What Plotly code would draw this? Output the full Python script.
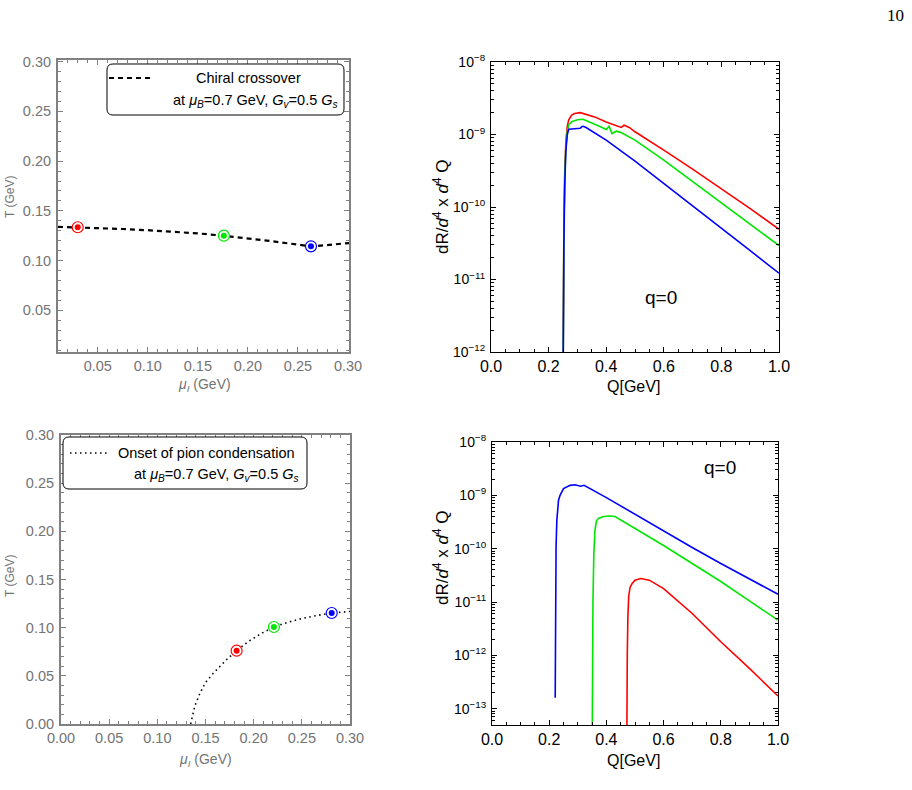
import plotly.graph_objects as go

W, H = 912, 790

# ---------------- data ----------------
# top-left: chiral crossover line (mu_I, T)
cross_mu = [0.0103, 0.03, 0.05, 0.075, 0.10, 0.125, 0.15, 0.175, 0.20, 0.225, 0.25, 0.263, 0.275, 0.29, 0.301]
cross_T = [0.1339, 0.1334, 0.1327, 0.1317, 0.1305, 0.1292, 0.1273, 0.1250, 0.1223, 0.1193, 0.1160, 0.1143, 0.1152, 0.1166, 0.1176]
cross_pts_mu = [0.030, 0.176, 0.263]
cross_pts_T = [0.1335, 0.1250, 0.1143]

# bottom-left: onset of pion condensation (mu_I, T)
pion_mu = [0.1346, 0.1365, 0.139, 0.1443, 0.150, 0.158, 0.165, 0.172, 0.1823, 0.195, 0.208, 0.221, 0.235, 0.250, 0.265, 0.281, 0.300]
pion_T = [0.0, 0.010, 0.019, 0.032, 0.043, 0.0526, 0.060, 0.067, 0.0761, 0.086, 0.094, 0.1007, 0.1055, 0.1095, 0.1125, 0.1152, 0.1168]
pion_pts_mu = [0.1823, 0.221, 0.281]
pion_pts_T = [0.0761, 0.1007, 0.1152]

point_colors = ["#ff0000", "#00e600", "#0000ff"]

# top-right: rates (Q, dR/d4x d4Q)
tr_red_Q = [0.2495, 0.251, 0.253, 0.256, 0.260, 0.265, 0.270, 0.280, 0.290, 0.310, 0.330, 0.360, 0.400, 0.440, 0.452, 0.462, 0.480, 0.500, 0.550, 0.600, 0.700, 0.800, 0.900, 1.000]
tr_red_R = [1e-13, 3e-12, 5e-11, 3e-10, 8e-10, 1.3e-9, 1.6e-9, 1.85e-9, 1.95e-9, 2.0e-9, 1.9e-9, 1.75e-9, 1.49e-9, 1.32e-9, 1.25e-9, 1.34e-9, 1.25e-9, 1.09e-9, 8.2e-10, 6.08e-10, 3.33e-10, 1.79e-10, 9.5e-11, 4.93e-11]
tr_green_Q = [0.2495, 0.251, 0.253, 0.256, 0.260, 0.265, 0.270, 0.280, 0.300, 0.320, 0.350, 0.380, 0.400, 0.410, 0.420, 0.435, 0.450, 0.500, 0.600, 0.700, 0.800, 0.900, 1.000]
tr_green_R = [1e-13, 2.5e-12, 4e-11, 2.5e-10, 7e-10, 1.1e-9, 1.35e-9, 1.5e-9, 1.6e-9, 1.62e-9, 1.45e-9, 1.28e-9, 1.17e-9, 1.3e-9, 1.03e-9, 1.11e-9, 1.07e-9, 8.36e-10, 4.44e-10, 2.25e-10, 1.13e-10, 5.77e-11, 2.94e-11]
tr_blue_Q = [0.2495, 0.251, 0.253, 0.256, 0.260, 0.265, 0.270, 0.290, 0.310, 0.315, 0.320, 0.330, 0.350, 0.400, 0.500, 0.600, 0.700, 0.800, 0.900, 1.000]
tr_blue_R = [1e-13, 2e-12, 3e-11, 2e-10, 6e-10, 1.0e-9, 1.18e-9, 1.2e-9, 1.22e-9, 1.28e-9, 1.3e-9, 1.25e-9, 1.12e-9, 8.36e-10, 4.3e-10, 2.12e-10, 1.05e-10, 5.14e-11, 2.5e-11, 1.22e-11]

# bottom-right
br_blue_Q = [0.221, 0.2212, 0.2215, 0.2240, 0.2267, 0.2326, 0.238, 0.250, 0.273, 0.290, 0.310, 0.322, 0.400, 0.500, 0.600, 0.700, 0.800, 0.900, 1.000]
br_blue_R = [1.6e-13, 1e-12, 1e-11, 1.1e-10, 3.4e-10, 8.1e-10, 1.0e-9, 1.34e-9, 1.54e-9, 1.58e-9, 1.48e-9, 1.54e-9, 9.08e-10, 4.41e-10, 2.12e-10, 1.05e-10, 5.27e-11, 2.68e-11, 1.40e-11]
br_green_Q = [0.3500, 0.351, 0.353, 0.356, 0.360, 0.365, 0.372, 0.390, 0.410, 0.430, 0.500, 0.600, 0.700, 0.800, 0.900, 1.000]
br_green_R = [1e-14, 1e-12, 1e-11, 8e-11, 2.2e-10, 3.3e-10, 3.7e-10, 4.0e-10, 4.1e-10, 4.0e-10, 2.38e-10, 1.15e-10, 5.27e-11, 2.43e-11, 1.05e-11, 4.57e-12]
br_red_Q = [0.4710, 0.4715, 0.473, 0.475, 0.478, 0.483, 0.490, 0.500, 0.520, 0.550, 0.600, 0.700, 0.800, 0.900, 1.000]
br_red_R = [1e-14, 1e-13, 1e-12, 5e-12, 1.3e-11, 1.9e-11, 2.22e-11, 2.57e-11, 2.76e-11, 2.57e-11, 1.79e-11, 6.1e-12, 1.8e-12, 5.7e-13, 1.73e-13]

top_logticks = [-8, -9, -10, -11, -12]
bot_logticks = [-8, -9, -10, -11, -12, -13]
phase_ticks = [0.00, 0.05, 0.10, 0.15, 0.20, 0.25, 0.30]
q_ticks = [0.0, 0.2, 0.4, 0.6, 0.8, 1.0]

# ---------------- figure ----------------
fig = go.Figure()

def px(x):
    return x / W

def py(y):
    return 1 - y / H

GRAY = "#808080"
TXTGRAY = "#747474"
FONT = "Liberation Sans, Arial, sans-serif"

# curves
fig.add_trace(go.Scatter(x=cross_mu, y=cross_T, mode="lines", xaxis="x", yaxis="y",
                         line=dict(color="black", width=2.2, dash="5px,4px"), showlegend=False))
fig.add_trace(go.Scatter(x=pion_mu, y=pion_T, mode="lines", xaxis="x3", yaxis="y3",
                         line=dict(color="black", width=1.6, dash="1.5px,3.5px"), showlegend=False))

for xs, ys, xa, ya in [(cross_pts_mu, cross_pts_T, "x", "y"), (pion_pts_mu, pion_pts_T, "x3", "y3")]:
    fig.add_trace(go.Scatter(x=xs, y=ys, mode="markers", xaxis=xa, yaxis=ya, showlegend=False,
                             marker=dict(size=11, color="white", line=dict(color=point_colors, width=1.2))))
    fig.add_trace(go.Scatter(x=xs, y=ys, mode="markers", xaxis=xa, yaxis=ya, showlegend=False,
                             marker=dict(size=6, color=point_colors, line=dict(width=0))))

for q, r, c in [(tr_red_Q, tr_red_R, "#ff0000"), (tr_green_Q, tr_green_R, "#00e600"), (tr_blue_Q, tr_blue_R, "#0000ff")]:
    fig.add_trace(go.Scatter(x=q, y=r, mode="lines", xaxis="x2", yaxis="y2", showlegend=False,
                             line=dict(color=c, width=1.6)))
for q, r, c in [(br_blue_Q, br_blue_R, "#0000ff"), (br_green_Q, br_green_R, "#00e600"), (br_red_Q, br_red_R, "#ff0000")]:
    fig.add_trace(go.Scatter(x=q, y=r, mode="lines", xaxis="x4", yaxis="y4", showlegend=False,
                             line=dict(color=c, width=1.6)))

def phase_axis(domain, rng, anchor, ticks):
    return dict(domain=domain, range=rng, anchor=anchor, automargin=False,
                showgrid=False, zeroline=False,
                showline=True, linecolor=GRAY, linewidth=2, mirror="allticks",
                ticks="inside", ticklen=5, tickwidth=1, tickcolor=GRAY,
                tickmode="array", tickvals=ticks,
                ticktext=[f"{t:.2f}" for t in ticks],
                tickfont=dict(family=FONT, size=14.5, color=TXTGRAY),
                minor=dict(ticks="inside", ticklen=3, tickwidth=1, tickcolor=GRAY, dtick=0.01, showgrid=False))

def sup(n):
    return "10<sup>\u2212" + str(-n) + "</sup>"

def rate_x(domain, anchor):
    return dict(domain=domain, range=[0, 1], anchor=anchor, automargin=False,
                showgrid=False, zeroline=False,
                showline=True, linecolor="black", linewidth=1.2, mirror="allticks",
                ticks="inside", ticklen=5, tickwidth=1, tickcolor="black",
                tickmode="array", tickvals=q_ticks, ticktext=[f"{t:.1f}" for t in q_ticks],
                tickfont=dict(family=FONT, size=16, color="black"),
                minor=dict(ticks="inside", ticklen=3, tickwidth=1, tickcolor="black", dtick=0.05, showgrid=False))

def rate_y(domain, anchor, rng, ticks):
    return dict(domain=domain, range=rng, anchor=anchor, type="log", automargin=False,
                showgrid=False, zeroline=False,
                showline=True, linecolor="black", linewidth=1.2, mirror="allticks",
                ticks="inside", ticklen=5, tickwidth=1, tickcolor="black",
                tickmode="array", tickvals=[10.0 ** t for t in ticks], ticktext=[sup(t) for t in ticks],
                tickfont=dict(family=FONT, size=14, color="black"),
                minor=dict(ticks="inside", ticklen=3, tickwidth=1, tickcolor="black", dtick="D1", showgrid=False))

tl_x = [px(58), px(349)]
tl_y = [py(352), py(60)]
tr_x = [px(491), px(779)]
tr_y = [py(352), py(62)]
bl_x = [px(61), px(350)]
bl_y = [py(724), py(435)]
br_x = [px(492), px(778)]
br_y = [py(725), py(442)]

fig.update_layout(
    width=W, height=H, autosize=False,
    margin=dict(l=0, r=0, t=0, b=0, pad=0, autoexpand=False),
    paper_bgcolor="white", plot_bgcolor="white",
    xaxis=phase_axis(tl_x, [0.0103, 0.301], "y", phase_ticks[1:]),
    yaxis=phase_axis(tl_y, [0.008, 0.3017], "x", phase_ticks[1:]),
    xaxis3=phase_axis(bl_x, [0.0, 0.30], "y3", phase_ticks),
    yaxis3=phase_axis(bl_y, [0.0, 0.30], "x3", phase_ticks),
    xaxis2=rate_x(tr_x, "y2"),
    yaxis2=rate_y(tr_y, "x2", [-12, -8], top_logticks),
    xaxis4=rate_x(br_x, "y4"),
    yaxis4=rate_y(br_y, "x4", [-13.305, -8], bot_logticks),
)
for ax in ["yaxis", "yaxis3", "yaxis2", "yaxis4"]:
    fig.layout[ax].ticklabelstandoff = 2

# ---------------- legend boxes ----------------
def rrect(x0, y0, x1, y1, r=6):
    def P(x, y):
        return f"{px(x):.5f},{py(y):.5f}"
    return (f"M {P(x0 + r, y0)} L {P(x1 - r, y0)} Q {P(x1, y0)} {P(x1, y0 + r)} "
            f"L {P(x1, y1 - r)} Q {P(x1, y1)} {P(x1 - r, y1)} L {P(x0 + r, y1)} "
            f"Q {P(x0, y1)} {P(x0, y1 - r)} L {P(x0, y0 + r)} Q {P(x0, y0)} {P(x0 + r, y0)} Z")

shapes = [
    dict(type="path", xref="paper", yref="paper", path=rrect(107, 64, 344, 115),
         line=dict(color="black", width=1), fillcolor="white"),
    dict(type="line", xref="paper", yref="paper", x0=px(109), x1=px(150), y0=py(78), y1=py(78),
         line=dict(color="black", width=2.2, dash="5px,4px")),
    dict(type="path", xref="paper", yref="paper", path=rrect(63, 437, 307, 489),
         line=dict(color="black", width=1), fillcolor="white"),
    dict(type="line", xref="paper", yref="paper", x0=px(70), x1=px(107), y0=py(453), y1=py(453),
         line=dict(color="black", width=1.6, dash="1.5px,3.5px")),
]
fig.update_layout(shapes=shapes)

par = "at <i>\u03bc</i><sub><i>B</i></sub>=0.7 GeV, <i>G</i><sub><i>v</i></sub>=0.5 <i>G</i><sub><i>s</i></sub>"
rate_title = "dR/<i>d</i><sup>4</sup> x <i>d</i><sup>4</sup> Q"

def ann(x, y, text, size, color="black", xanchor="center", angle=0, family=FONT):
    return dict(x=px(x), y=py(y), xref="paper", yref="paper", text=text, showarrow=False,
                xanchor=xanchor, yanchor="middle", textangle=angle,
                font=dict(family=family, size=size, color=color))

annotations = [
    ann(248, 78, "Chiral crossover", 14.5),
    ann(340, 101, par, 14.5, xanchor="right"),
    ann(116, 453, "Onset of pion condensation", 14.5, xanchor="left"),
    ann(301, 475, par, 14.5, xanchor="right"),
    # axis titles
    ann(10, 197, "T (GeV)", 12, TXTGRAY, angle=-90),
    ann(204, 385, "<i>\u03bc</i><sub><i>I</i></sub> (GeV)", 14, TXTGRAY),
    ann(10, 576, "T (GeV)", 12, TXTGRAY, angle=-90),
    ann(205, 760, "<i>\u03bc</i><sub><i>I</i></sub> (GeV)", 14, TXTGRAY),
    ann(441, 207, rate_title, 17, angle=-90),
    ann(633, 387, "Q[GeV]", 16),
    ann(441, 558, rate_title, 17, angle=-90),
    ann(633, 760, "Q[GeV]", 16),
    ann(661, 297, "q=0", 19),
    ann(720, 467, "q=0", 19),
    ann(895, 16, "10", 17, family="Liberation Serif, Times New Roman, serif"),
]
fig.update_layout(annotations=annotations)

fig.write_html(
    "out.html",
    post_script="document.body.style.margin='0';document.body.style.padding='0';"
                "document.documentElement.style.margin='0';document.body.style.overflow='hidden';",
)
